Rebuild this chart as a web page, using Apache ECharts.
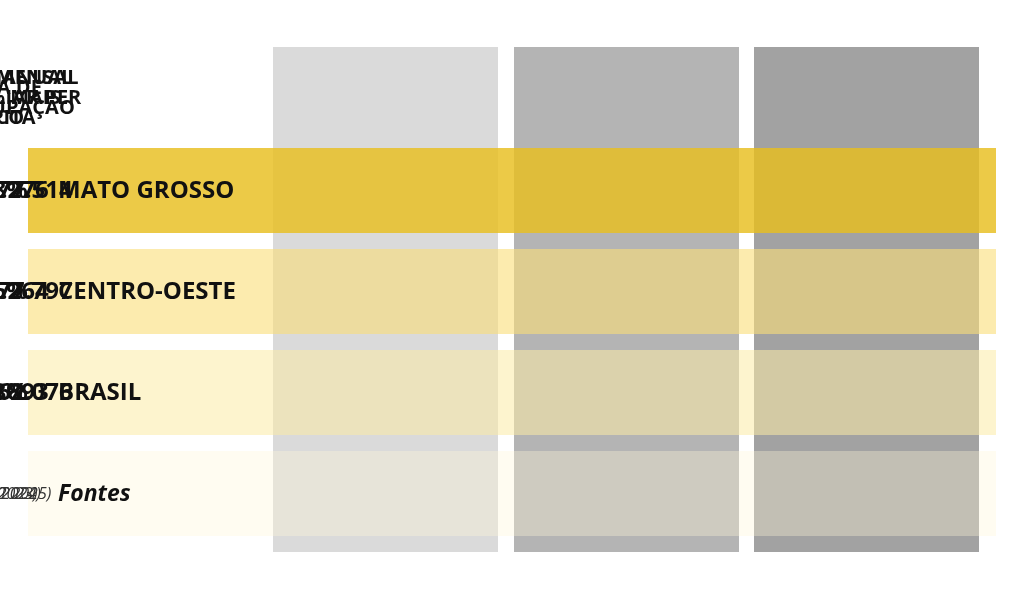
<!DOCTYPE html><html><head><meta charset="utf-8">
<script src="https://cdn.jsdelivr.net/npm/echarts@6/dist/echarts.min.js"></script>
<style>html,body{margin:0;background:#fff}#c{width:1024px;height:595px}</style></head><body><div id="c"></div>
<script>
const columns = ['label','TAXA DE\nDESOCUPAÇÃO','RENDA MENSAL\nDOMICILIAR PER\nCAPITA','RENDA ANUAL\nDO 1% MAIS\nRICO'];
const rows = ['header','MATO GROSSO','CENTRO-OESTE','BRASIL','Fontes'];
const taxa = ['2,8%','4,6%','5,8%','IBGE (3T 2025)'];
const rendaMensal = ['R$ 2.276','R$ 2.264','R$ 1.893','IBGE (2024)'];
const rendaAnual = ['R$ 1.577.514','R$ 1.077.797','R$ 1.162.076','RFB (2023)'];
const colColors = [null,'#dadada','#b4b4b4','#a2a2a2'];
const rowColors = [null,'rgba(232,190,30,0.82)','rgba(250,222,120,0.6)','rgba(252,235,165,0.55)','rgba(254,246,215,0.35)'];
const chart = echarts.init(document.getElementById('c'));
const colData = [1,2,3].map(i=>[columns[i],i]);
const rowData = [1,2,3,4].map(i=>[rows[i],i]);
const cells=[];
[1,2,3,4].forEach(r=>{
  cells.push({value:['label',rows[r]],text:rows[r],kind:r===4?'fontesLabel':'label'});
  [taxa,rendaMensal,rendaAnual].forEach((arr,j)=>cells.push({value:[columns[j+1],rows[r]],text:arr[r-1],kind:r===4?'src':'val'}));
});
[1,2,3].forEach(i=>cells.push({value:[columns[i],'header'],text:columns[i],kind:'head'}));
const colOff=[0,3,2,0];
chart.setOption({
  animation:false,
  grid:{left:28,right:28,top:47,bottom:43},
  xAxis:{type:'category',data:columns,show:false},
  yAxis:{type:'category',data:rows,inverse:true,show:false},
  series:[
   {type:'custom',data:colData,renderItem:(p,api)=>{
      const c=api.coord([api.value(0),'header']);const s=api.size([1,1]);
      const x=c[0]-s[0]/2+colOff[api.value(1)];const y=c[1]-s[1]/2;
      return {type:'rect',shape:{x:x,y:y,width:225,height:s[1]*5},style:{fill:colColors[api.value(1)]}};
   }},
   {type:'custom',data:rowData,encode:{x:-1,y:0},renderItem:(p,api)=>{
      const c=api.coord(['label',api.value(0)]);const s=api.size([1,1]);
      const y=c[1]-s[1]/2;
      return {type:'rect',shape:{x:28,y:y,width:s[0]*4,height:85},style:{fill:rowColors[api.value(1)]}};
   }},
   {type:'custom',data:cells,renderItem:(p,api)=>{
      const d=cells[p.dataIndex];const c=api.coord([api.value(0),api.value(1)]);const s=api.size([1,1]);
      const ci=columns.indexOf(api.value(0));
      let x,y=c[1]-s[1]/2+43,align='center',font;
      if(d.kind==='label'||d.kind==='fontesLabel'){x=c[0]-s[0]/2+30;align='left';}
      else x=c[0]-s[0]/2+colOff[ci]+112;
      let fill='#111';
      if(d.kind==='label'||d.kind==='val') font='bold 24px "Open Sans"';
      else if(d.kind==='fontesLabel') font='italic bold 23px "Open Sans"';
      else if(d.kind==='src'){font='italic 16px "Open Sans"';fill='#333';}
      else {font='bold 20px "Open Sans"';y=c[1]-s[1]/2+51;}
      return {type:'text',style:{x:x,y:y,text:d.text,font:font,fill:fill,align:align,verticalAlign:'middle',lineHeight:20,letterSpacing:d.kind==='src'?0:-0.5}};
   }}
  ]
});
</script></body></html>
